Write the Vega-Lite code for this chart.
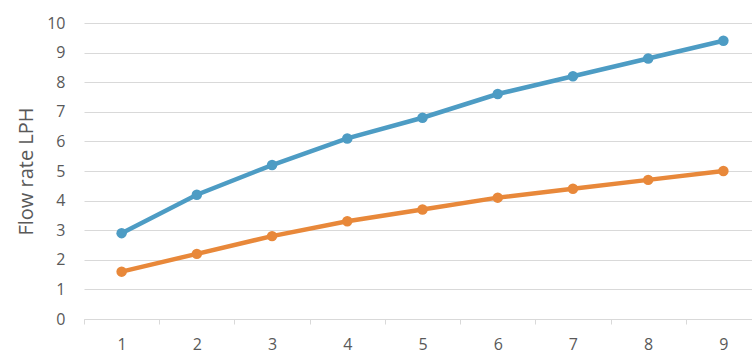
{
  "$schema": "https://vega.github.io/schema/vega-lite/v6.json",
  "autosize": {"type": "none"},
  "padding": {"left": 84, "top": 23, "right": 0, "bottom": 35},
  "width": 672,
  "height": 296,
  "background": "white",
  "config": {
    "view": {"stroke": null},
    "font": "Open Sans"
  },
  "data": {
    "values": [
      {"x": "1", "series": "A", "v": 2.9},
      {"x": "2", "series": "A", "v": 4.2},
      {"x": "3", "series": "A", "v": 5.2},
      {"x": "4", "series": "A", "v": 6.1},
      {"x": "5", "series": "A", "v": 6.8},
      {"x": "6", "series": "A", "v": 7.6},
      {"x": "7", "series": "A", "v": 8.2},
      {"x": "8", "series": "A", "v": 8.8},
      {"x": "9", "series": "A", "v": 9.4},
      {"x": "1", "series": "B", "v": 1.6},
      {"x": "2", "series": "B", "v": 2.2},
      {"x": "3", "series": "B", "v": 2.8},
      {"x": "4", "series": "B", "v": 3.3},
      {"x": "5", "series": "B", "v": 3.7},
      {"x": "6", "series": "B", "v": 4.1},
      {"x": "7", "series": "B", "v": 4.4},
      {"x": "8", "series": "B", "v": 4.7},
      {"x": "9", "series": "B", "v": 5.0}
    ]
  },
  "encoding": {
    "x": {
      "field": "x",
      "type": "ordinal",
      "sort": null,
      "scale": {"type": "band", "paddingInner": 0, "paddingOuter": 0, "range": [0, 677]},
      "axis": {
        "title": null,
        "labelAngle": 0,
        "tickBand": "extent",
        "domainColor": "#d9d9d9",
        "domainWidth": 1,
        "tickColor": "#d9d9d9",
        "tickSize": 5,
        "labelColor": "#595959",
        "labelFontSize": 16,
        "labelPadding": 12,
        "grid": false
      }
    },
    "y": {
      "field": "v",
      "type": "quantitative",
      "scale": {"domain": [0, 10]},
      "axis": {
        "title": "Flow rate LPH",
        "titleColor": "#595959",
        "titleFontSize": 20,
        "titleFontWeight": "normal",
        "titlePadding": 10,
        "values": [0, 1, 2, 3, 4, 5, 6, 7, 8, 9, 10],
        "domain": false,
        "ticks": false,
        "labelColor": "#595959",
        "labelFontSize": 16,
        "labelPadding": 19,
        "gridColor": "#d9d9d9",
        "gridWidth": 1
      }
    },
    "color": {
      "field": "series",
      "type": "nominal",
      "scale": {"domain": ["A", "B"], "range": ["#4D9CC4", "#E8883A"]},
      "legend": null
    }
  },
  "layer": [
    {"mark": {"type": "line", "strokeWidth": 4.5}},
    {"mark": {"type": "point", "filled": true, "opacity": 1, "size": 110}}
  ]
}
